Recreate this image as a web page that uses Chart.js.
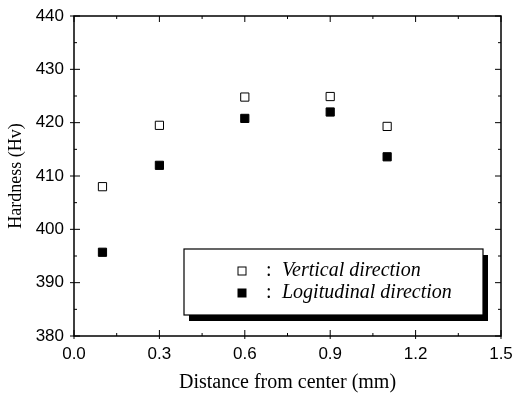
<!DOCTYPE html>
<html>
<head>
<meta charset="utf-8">
<script src="https://cdn.jsdelivr.net/npm/chart.js@4.4.0/dist/chart.umd.min.js"></script>
<style>
  html, body { margin: 0; padding: 0; background: #fff; }
  #wrap { width: 514px; height: 395px; position: relative; }
</style>
</head>
<body>
<div id="wrap"><canvas id="hardnessChart"></canvas></div>
<script>
// distance from center (mm)
const distances = [0.1, 0.3, 0.6, 0.9, 1.1];
// hardness values (Hv)
const verticalHv = [408.0, 419.5, 424.8, 424.9, 419.3];
const longitudinalHv = [395.7, 412.0, 420.8, 422.0, 413.6];

const xTicks = [0.0, 0.3, 0.6, 0.9, 1.2, 1.5];
const yTicks = [380, 390, 400, 410, 420, 430, 440];

const legendLabels = ['Vertical direction', 'Logitudinal direction'];

function toPoints(xs, ys) {
    return xs.map(function(x, i) { return { x: x, y: ys[i] }; });
}

// frame + inward ticks on all four sides
const framePlugin = {
    id: 'frameTicks',
    afterDatasetsDraw: function(chart) {
        const ctx = chart.ctx;
        const a = chart.chartArea;
        const xs = chart.scales.x;
        const ys = chart.scales.y;
        ctx.save();
        ctx.strokeStyle = '#000';
        ctx.lineWidth = 1.5;
        ctx.strokeRect(a.left, a.top, a.right - a.left, a.bottom - a.top);
        ctx.lineWidth = 1;
        ctx.beginPath();
        for (let v = 0; v <= 1.5001; v += 0.15) {
            const px = xs.getPixelForValue(v);
            const major = Math.abs(v / 0.3 - Math.round(v / 0.3)) < 0.01;
            const len = major ? 6 : 3;
            ctx.moveTo(px, a.bottom); ctx.lineTo(px, a.bottom - len);
            ctx.moveTo(px, a.top); ctx.lineTo(px, a.top + len);
            if (major) { ctx.moveTo(px, a.bottom); ctx.lineTo(px, a.bottom + 3); }
        }
        for (let v = 380; v <= 440; v += 5) {
            const py = ys.getPixelForValue(v);
            const len = (v % 10 === 0) ? 6 : 3;
            ctx.moveTo(a.left, py); ctx.lineTo(a.left + len, py);
            ctx.moveTo(a.right, py); ctx.lineTo(a.right - len, py);
            if (v % 10 === 0) { ctx.moveTo(a.left, py); ctx.lineTo(a.left - 4, py); }
        }
        ctx.stroke();
        ctx.restore();
    }
};

// boxed legend with a drop shadow, placed inside the plot
const boxLegendPlugin = {
    id: 'boxLegend',
    afterDraw: function(chart) {
        const ctx = chart.ctx;
        const left = 184, top = 249, w = 299, h = 66;
        ctx.save();
        ctx.fillStyle = '#000';
        ctx.fillRect(left + 5, top + 6, w, h);
        ctx.fillStyle = '#fff';
        ctx.fillRect(left, top, w, h);
        ctx.strokeStyle = '#000';
        ctx.lineWidth = 1.2;
        ctx.strokeRect(left, top, w, h);

        const rows = [271, 293];
        chart.data.datasets.forEach(function(ds, i) {
            const s = 8;
            const cx = 242, cy = rows[i];
            ctx.fillStyle = ds.backgroundColor;
            ctx.fillRect(cx - s / 2, cy - s / 2, s, s);
            ctx.strokeStyle = '#000';
            ctx.lineWidth = 1;
            ctx.strokeRect(cx - s / 2, cy - s / 2, s, s);
            ctx.fillStyle = '#000';
            ctx.textBaseline = 'middle';
            ctx.font = '20px "Liberation Serif", "Times New Roman", serif';
            ctx.fillText(':', 266, cy);
            ctx.font = 'italic 20px "Liberation Serif", "Times New Roman", serif';
            ctx.fillText(legendLabels[i], 282, cy);
        });
        ctx.restore();
    }
};

const ctx = document.getElementById('hardnessChart').getContext('2d');
new Chart(ctx, {
    type: 'scatter',
    data: {
        datasets: [{
            label: 'Vertical direction',
            data: toPoints(distances, verticalHv),
            pointStyle: 'rect',
            pointRadius: 5.8,
            backgroundColor: '#fff',
            borderColor: '#000',
            borderWidth: 1
        }, {
            label: 'Logitudinal direction',
            data: toPoints(distances, longitudinalHv),
            pointStyle: 'rect',
            pointRadius: 5.8,
            backgroundColor: '#000',
            borderColor: '#000',
            borderWidth: 1
        }]
    },
    options: {
        responsive: true,
        maintainAspectRatio: false,
        animation: false,
        layout: { padding: { left: 0, right: 13, top: 16, bottom: 0 } },
        plugins: {
            legend: { display: false },
            tooltip: { enabled: false }
        },
        scales: {
            x: {
                type: 'linear',
                min: 0,
                max: 1.5,
                afterBuildTicks: function(scale) {
                    scale.ticks = xTicks.map(function(v) { return { value: v }; });
                },
                afterFit: function(scale) {
                    scale.height = 59;
                    scale.paddingLeft = 0;
                    scale.paddingRight = 0;
                },
                grid: { display: false, drawTicks: false },
                border: { display: false },
                ticks: {
                    color: '#000',
                    padding: 8,
                    font: { family: '"Liberation Sans", Arial, sans-serif', size: 17 },
                    callback: function(v) { return Number(v).toFixed(1); }
                },
                title: {
                    display: true,
                    text: 'Distance from center (mm)',
                    color: '#000',
                    font: { family: '"Liberation Serif", "Times New Roman", serif', size: 20 },
                    padding: { top: 5, bottom: 0 }
                }
            },
            y: {
                min: 380,
                max: 440,
                afterBuildTicks: function(scale) {
                    scale.ticks = yTicks.map(function(v) { return { value: v }; });
                },
                afterFit: function(scale) {
                    scale.width = 74;
                    scale.paddingTop = 0;
                    scale.paddingBottom = 0;
                },
                grid: { display: false, drawTicks: false },
                border: { display: false },
                ticks: {
                    color: '#000',
                    padding: 10,
                    font: { family: '"Liberation Sans", Arial, sans-serif', size: 17 }
                },
                title: {
                    display: true,
                    text: 'Hardness (Hv)',
                    color: '#000',
                    font: { family: '"Liberation Serif", "Times New Roman", serif', size: 18 },
                    padding: { top: 5, bottom: 0 }
                }
            }
        }
    },
    plugins: [framePlugin, boxLegendPlugin]
});
</script>
</body>
</html>
